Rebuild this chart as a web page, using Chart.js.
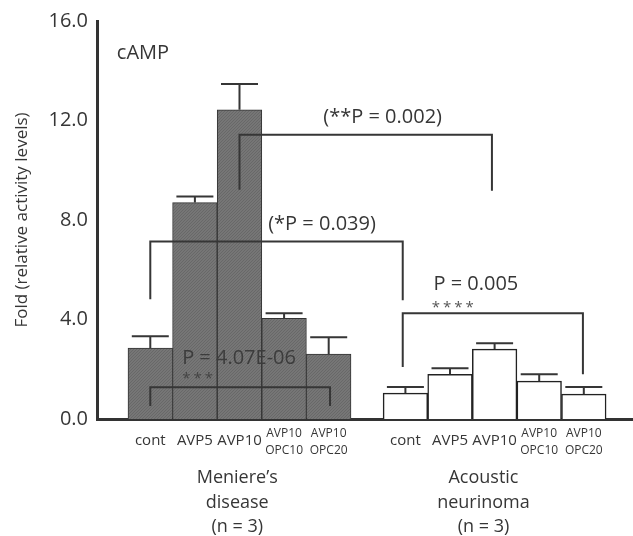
<!DOCTYPE html>
<html>
<head>
<meta charset="utf-8">
<script src="https://cdn.jsdelivr.net/npm/chart.js@4.4.1/dist/chart.umd.min.js"></script>
<style>
  html, body { margin: 0; padding: 0; background: #fff; }
  #wrap { width: 633px; height: 536px; position: relative; }
</style>
</head>
<body>
<div id="wrap"><canvas id="chart" width="633" height="536"></canvas></div>
<script>
// ---- data ----
const TREATMENTS = ['cont', 'AVP5', 'AVP10', ['AVP10', 'OPC10'], ['AVP10', 'OPC20']];
const GROUP_NAMES = [['Meniere’s', 'disease', '(n = 3)'], ['Acoustic', 'neurinoma', '(n = 3)']];
const MENIERE_MEAN = [2.85, 8.70, 12.43, 4.05, 2.61];
const MENIERE_SD   = [0.48, 0.24, 1.04, 0.20, 0.68];
const ACOUSTIC_MEAN = [1.04, 1.80, 2.81, 1.52, 1.00];
const ACOUSTIC_SD   = [0.25, 0.24, 0.24, 0.28, 0.29];
const Y_TICKS = [0, 4, 8, 12, 16];

// significance brackets: [xLeft, xRight, yBar, yLeftEnd, yRightEnd]
const BRACKETS = [
  [2, 7.66, 11.43, 9.22, 9.18],
  [0, 5.66, 7.14, 4.81, 4.77],
  [5.66, 9.70, 4.25, 2.09, 1.80],
  [0, 4.03, 1.28, 0.52, 0.52]
];
// p-value texts: [text, x, y]
const NOTES = [
  ['(**P = 0.002)', 5.21, 12.11],
  ['(*P = 0.039)', 3.85, 7.82],
  ['P = 0.005', 7.30, 5.41],
  ['P = 4.07E-06', 1.99, 2.45]
];
// significance stars: [text, x, y]
const STARS = [
  ['****', 6.78, 4.47],
  ['***', 1.06, 1.62]
];

// ---- layout helpers ----
const FONT = "'Open Sans', 'DejaVu Sans', sans-serif";
const INK = '#363636';
const GROUP_STEP = 5.72;          // distance between the first bars of each group
const xPos = (g, i) => g * GROUP_STEP + i;
const TICK_POS = [0, 1].flatMap(g => TREATMENTS.map((_, i) => xPos(g, i)));
const TICK_LABELS = [...TREATMENTS, ...TREATMENTS];
const GROUP_LABEL_X = [1.95, 7.47];

// diagonal hatch for the shaded bars
const hatch = (() => {
  const c = document.createElement('canvas');
  c.width = c.height = 3;
  const p = c.getContext('2d');
  p.fillStyle = '#767676';
  p.fillRect(0, 0, 3, 3);
  p.fillStyle = '#686868';
  p.fillRect(0, 2, 1, 1);
  p.fillRect(1, 1, 1, 1);
  p.fillRect(2, 0, 1, 1);
  return p.createPattern(c, 'repeat');
})();

const overlays = {
  id: 'overlays',
  afterDatasetsDraw(chart) {
    const { ctx, scales: { x, y } } = chart;
    ctx.save();
    ctx.strokeStyle = INK;
    ctx.lineWidth = 2;
    ctx.lineCap = 'butt';

    // error bars (upper whisker only)
    const means = [MENIERE_MEAN, ACOUSTIC_MEAN];
    const sds = [MENIERE_SD, ACOUSTIC_SD];
    means.forEach((m, g) => {
      m.forEach((v, i) => {
        const px = x.getPixelForValue(xPos(g, i));
        const top = y.getPixelForValue(v);
        const cap = y.getPixelForValue(v + sds[g][i]);
        ctx.beginPath();
        ctx.moveTo(px, top);
        ctx.lineTo(px, cap);
        ctx.moveTo(px - 18.5, cap);
        ctx.lineTo(px + 18.5, cap);
        ctx.stroke();
      });
    });

    // significance brackets
    BRACKETS.forEach(([x1, x2, yb, yl, yr]) => {
      ctx.beginPath();
      ctx.moveTo(x.getPixelForValue(x1), y.getPixelForValue(yl));
      ctx.lineTo(x.getPixelForValue(x1), y.getPixelForValue(yb));
      ctx.lineTo(x.getPixelForValue(x2), y.getPixelForValue(yb));
      ctx.lineTo(x.getPixelForValue(x2), y.getPixelForValue(yr));
      ctx.stroke();
    });

    // p-values
    ctx.textAlign = 'center';
    ctx.textBaseline = 'middle';
    ctx.font = `20px ${FONT}`;
    NOTES.forEach(([t, nx, ny]) => {
      ctx.fillStyle = nx < 4.3 && ny < 4 ? '#3c3c3c' : INK;
      ctx.fillText(t, x.getPixelForValue(nx), y.getPixelForValue(ny));
    });

    // stars
    ctx.font = `15px ${FONT}`;
    ctx.letterSpacing = '3px';
    STARS.forEach(([t, nx, ny]) => {
      ctx.fillStyle = nx < 4.3 ? '#444' : '#555';
      ctx.fillText(t, x.getPixelForValue(nx) + 1.5, y.getPixelForValue(ny));
    });
    ctx.letterSpacing = '0px';

    // panel label
    ctx.textAlign = 'left';
    ctx.fillStyle = INK;
    ctx.font = `20px ${FONT}`;
    ctx.fillText('cAMP', x.getPixelForValue(-0.75), y.getPixelForValue(14.72));

    // group names under the axis
    ctx.textAlign = 'center';
    ctx.font = `18px ${FONT}`;
    GROUP_NAMES.forEach((lines, g) => {
      lines.forEach((ln, k) => {
        ctx.fillText(ln, x.getPixelForValue(GROUP_LABEL_X[g]), 478 + k * 24.5);
      });
    });
    ctx.restore();
  }
};

new Chart(document.getElementById('chart'), {
  type: 'bar',
  data: {
    datasets: [
      {
        label: 'Meniere’s disease',
        data: MENIERE_MEAN.map((v, i) => ({ x: xPos(0, i), y: v })),
        backgroundColor: hatch,
        borderColor: '#333',
        borderWidth: 1,
        borderSkipped: 'bottom',
        grouped: false,
        barPercentage: 1,
        categoryPercentage: 1
      },
      {
        label: 'Acoustic neurinoma',
        data: ACOUSTIC_MEAN.map((v, i) => ({ x: xPos(1, i), y: v })),
        backgroundColor: '#ffffff',
        borderColor: '#222',
        borderWidth: 1.5,
        borderSkipped: 'bottom',
        grouped: false,
        barPercentage: 1,
        categoryPercentage: 1
      }
    ]
  },
  options: {
    responsive: false,
    animation: false,
    layout: { padding: { top: 20, right: 0, bottom: 0, left: 0 } },
    plugins: { legend: { display: false }, tooltip: { enabled: false } },
    scales: {
      x: {
        type: 'linear',
        min: -1.195,
        max: 10.823,
        offset: false,
        bounds: 'data',
        grid: { display: false, drawTicks: false },
        border: { display: true, color: '#333', width: 3 },
        afterBuildTicks: s => { s.ticks = TICK_POS.map(v => ({ value: v })); },
        afterFit: s => { s.height = 117; },
        ticks: {
          autoSkip: false,
          maxRotation: 0,
          minRotation: 0,
          padding: 6,
          color: INK,
          callback: (v, i) => TICK_LABELS[i],
          font: c => Array.isArray(TICK_LABELS[c.index])
            ? { family: FONT, size: 12, lineHeight: 17 / 12 }
            : { family: FONT, size: 15, lineHeight: 31 / 15 }
        }
      },
      y: {
        min: 0,
        max: 16,
        grid: { display: false, drawTicks: false },
        border: { display: true, color: '#333', width: 3 },
        afterBuildTicks: s => { s.ticks = Y_TICKS.map(v => ({ value: v })); },
        afterFit: s => { s.width = 97; },
        ticks: {
          padding: 9,
          color: INK,
          font: { family: FONT, size: 20 },
          callback: v => v.toFixed(1)
        },
        title: {
          display: true,
          text: 'Fold (relative activity levels)',
          color: INK,
          font: { family: FONT, size: 17 },
          padding: { top: 12, bottom: 0 }
        }
      }
    }
  },
  plugins: [overlays]
});
</script>
</body>
</html>
